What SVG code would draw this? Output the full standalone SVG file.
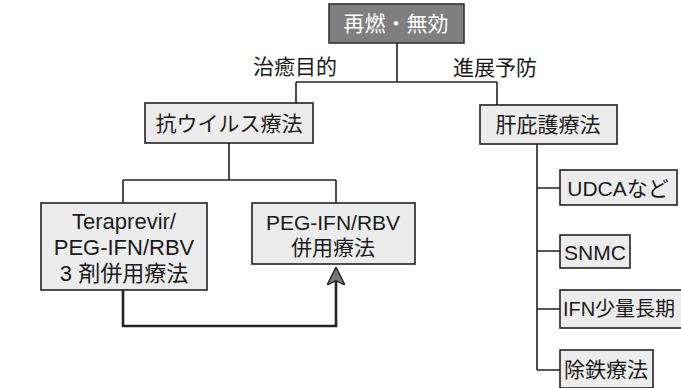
<svg xmlns="http://www.w3.org/2000/svg" width="681" height="388" viewBox="0 0 681 388">
<defs>
<style>
.box{fill:#ececec;stroke:#222;stroke-width:1.6}
.dark{fill:#7f7f7f;stroke:#333;stroke-width:1.6}
.t{font-family:"Liberation Sans","Noto Sans CJK JP",sans-serif;font-size:21px;fill:#1a1a1a;text-anchor:middle;dominant-baseline:central}
.big{font-size:22px}
.mid{font-size:21px}
.sm{font-size:20px}
.w{fill:#ffffff;font-size:21px}
.ln{fill:none;stroke:#222;stroke-width:1.6}
.arr{fill:none;stroke:#222;stroke-width:2.6}
</style>
<marker id="ah" viewBox="0 0 20 20" refX="19" refY="10" markerWidth="7" markerHeight="7" orient="auto" markerUnits="strokeWidth">
<path d="M20,10 L0,0 L5,10 L0,20 Z" fill="#777" stroke="#222" stroke-width="1.5"/>
</marker>
</defs>
<rect width="681" height="388" fill="#ffffff"/>
<g id="connectors">
<path class="ln" d="M397,43 V82 M296,82 H497 M296,82 V103 M497,82 V105"/>
<path class="ln" d="M229,143 V180 M123,180 H336 M123,180 V203 M336,180 V203"/>
<path class="ln" d="M537,144 V370 M537,188 H560 M537,251 H560 M537,309 H560 M537,370 H560"/>
<path class="arr" d="M123,290 V326 H336 V268" marker-end="url(#ah)"/>
</g>
<g id="label-chiyu"><text class="t" x="295" y="66">治癒目的</text></g>
<g id="label-shinten"><text class="t" x="495" y="67">進展予防</text></g>
<g id="n-top"><rect class="dark" x="329" y="4" width="135" height="39"/><text class="t w" x="396" y="23">再燃・無効</text></g>
<g id="n-antiviral"><rect class="box" x="145" y="103" width="168" height="40"/><text class="t" x="229" y="123">抗ウイルス療法</text></g>
<g id="n-liver"><rect class="box" x="480" y="105" width="137" height="39"/><text class="t" x="548" y="124">肝庇護療法</text></g>
<g id="n-triple"><rect class="box" x="41" y="203" width="166" height="87"/>
<text class="t big" x="124" y="221">Teraprevir/</text>
<text class="t big" x="124" y="247">PEG-IFN/RBV</text>
<text class="t big" x="124" y="273">3 剤併用療法</text></g>
<g id="n-pegrbv"><rect class="box" x="252" y="203" width="163" height="61"/>
<text class="t mid" x="333" y="222">PEG-IFN/RBV</text>
<text class="t mid" x="333" y="247">併用療法</text></g>
<g id="n-udca"><rect class="box" x="560" y="170" width="117" height="35"/><text class="t" x="618" y="188">UDCAなど</text></g>
<g id="n-snmc"><rect class="box" x="560" y="235" width="70" height="33"/><text class="t" x="595" y="252">SNMC</text></g>
<g id="n-ifn"><rect class="box" x="560" y="290" width="130" height="38"/><text class="t sm" x="619" y="309">IFN少量長期</text></g>
<g id="n-iron"><rect class="box" x="560" y="350" width="93" height="38"/><text class="t" x="606" y="369">除鉄療法</text></g>
</svg>
